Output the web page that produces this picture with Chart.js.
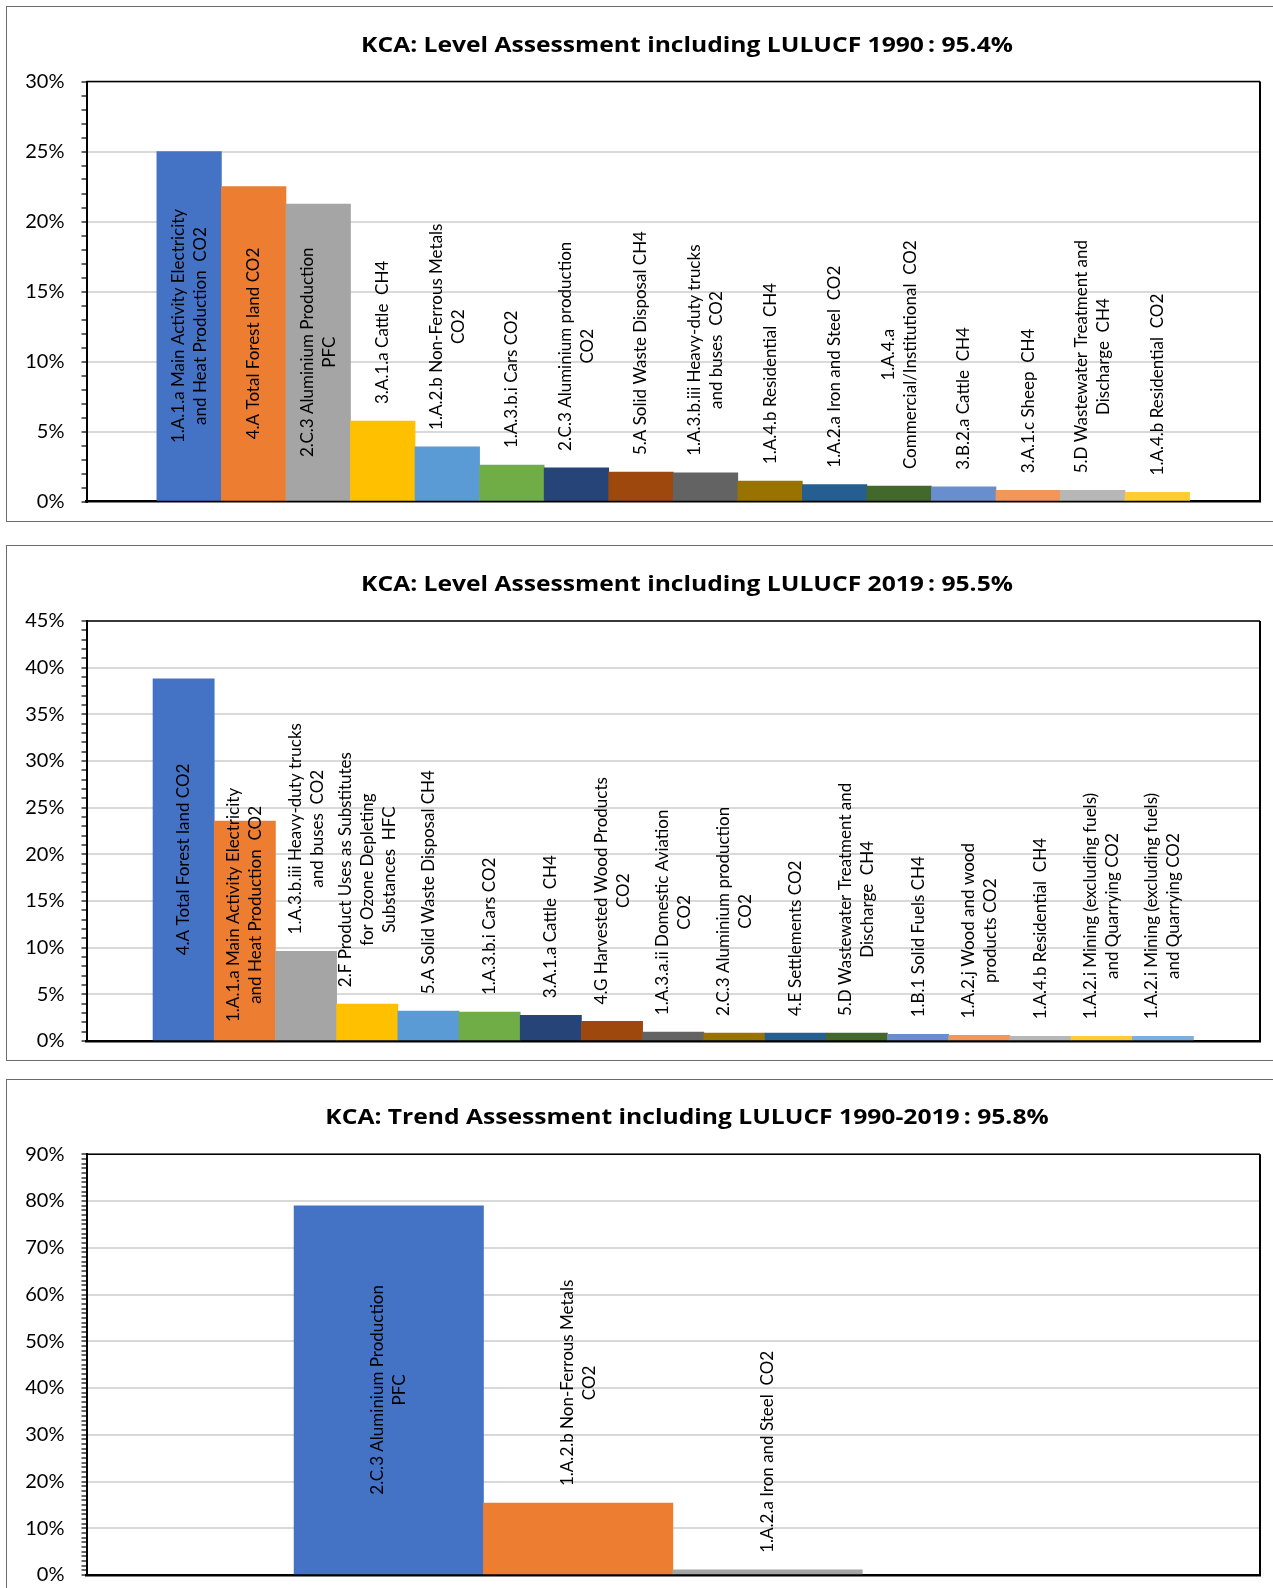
<!DOCTYPE html>
<html>
<head>
<meta charset="utf-8">
<script src="https://cdn.jsdelivr.net/npm/chart.js@4.4.1/dist/chart.umd.min.js"></script>
<style>
  html, body { margin: 0; padding: 0; background: #fff; overflow: hidden; }
  body { width: 1273px; height: 1588px; position: relative; }
  .frame { position: absolute; left: 6px; width: 1320px; border: 1.5px solid #6b6b6b; box-sizing: border-box; }
  .panel { position: absolute; left: 0; width: 1273px; height: 560px; }
</style>
</head>
<body>
<div class="frame" style="top:6px;height:516px"></div>
<div class="frame" style="top:545px;height:516px"></div>
<div class="frame" style="top:1079px;height:540px"></div>
<div class="panel" style="top:0"><canvas id="level1990"></canvas></div>
<div class="panel" style="top:535px"><canvas id="level2019"></canvas></div>
<div class="panel" style="top:1070px"><canvas id="trend"></canvas></div>
<script>
// ---- Level assessment 1990 (share of total, %) ----
const cats1990 = [
  ["1.A.1.a Main Activity Electricity", "and Heat Production  CO2"],
  ["4.A Total Forest land CO2"],
  ["2.C.3 Aluminium Production", "PFC"],
  ["3.A.1.a Cattle  CH4"],
  ["1.A.2.b Non-Ferrous Metals", "CO2"],
  ["1.A.3.b.i Cars CO2"],
  ["2.C.3 Aluminium production", "CO2"],
  ["5.A Solid Waste Disposal CH4"],
  ["1.A.3.b.iii Heavy-duty trucks", "and buses  CO2"],
  ["1.A.4.b Residential  CH4"],
  ["1.A.2.a Iron and Steel  CO2"],
  ["1.A.4.a", "Commercial/Institutional  CO2"],
  ["3.B.2.a Cattle  CH4"],
  ["3.A.1.c Sheep  CH4"],
  ["5.D Wastewater Treatment and", "Discharge  CH4"],
  ["1.A.4.b Residential  CO2"]
];
const share1990 = [25.0, 22.5, 21.25, 5.75, 3.9, 2.6, 2.4, 2.1, 2.05, 1.45, 1.2, 1.1, 1.05, 0.8, 0.8, 0.65];

// ---- Level assessment 2019 (share of total, %) ----
const cats2019 = [
  ["4.A Total Forest land CO2"],
  ["1.A.1.a Main Activity Electricity", "and Heat Production  CO2"],
  ["1.A.3.b.iii Heavy-duty trucks", "and buses  CO2"],
  ["2.F Product Uses as Substitutes", "for Ozone Depleting", "Substances  HFC"],
  ["5.A Solid Waste Disposal CH4"],
  ["1.A.3.b.i Cars CO2"],
  ["3.A.1.a Cattle  CH4"],
  ["4.G Harvested Wood Products", "CO2"],
  ["1.A.3.a.ii Domestic Aviation", "CO2"],
  ["2.C.3 Aluminium production", "CO2"],
  ["4.E Settlements CO2"],
  ["5.D Wastewater Treatment and", "Discharge  CH4"],
  ["1.B.1 Solid Fuels CH4"],
  ["1.A.2.j Wood and wood", "products CO2"],
  ["1.A.4.b Residential  CH4"],
  ["1.A.2.i Mining (excluding fuels)", "and Quarrying CO2"],
  ["1.A.2.i Mining (excluding fuels)", "and Quarrying CO2"]
];
const share2019 = [38.8, 23.55, 9.6, 3.95, 3.2, 3.1, 2.75, 2.1, 0.95, 0.85, 0.85, 0.85, 0.72, 0.6, 0.5, 0.5, 0.5];

// ---- Trend assessment 1990-2019 (contribution to trend, %) ----
const catsTrend = [
  ["2.C.3 Aluminium Production", "PFC"],
  ["1.A.2.b Non-Ferrous Metals", "CO2"],
  ["1.A.2.a Iron and Steel  CO2"]
];
const shareTrend = [79.0, 15.4, 1.1];

// y-axis tick labels
const ticks1990 = [0, 5, 10, 15, 20, 25, 30];
const ticks2019 = [0, 5, 10, 15, 20, 25, 30, 35, 40, 45];
const ticksTrend = [0, 10, 20, 30, 40, 50, 60, 70, 80, 90];

// Office colour sequence used for the bars
const palette = ['#4472C4', '#ED7D31', '#A5A5A5', '#FFC000', '#5B9BD5', '#70AD47', '#264478', '#9E480E',
  '#636363', '#997300', '#255E91', '#43682B', '#698ED0', '#F1975A', '#B7B7B7', '#FFCD33', '#7CAFDD'];

// Category names printed vertically on or above each bar
const barNames = {
  id: 'barNames',
  afterDatasetsDraw(chart, args, opts) {
    const ctx = chart.ctx;
    const meta = chart.getDatasetMeta(0);
    ctx.save();
    ctx.font = opts.font;
    ctx.fillStyle = '#000';
    ctx.textAlign = 'center';
    ctx.textBaseline = 'middle';
    meta.data.forEach((bar, i) => {
      const lines = opts.lines[i];
      if (!lines || !lines.length) return;
      const p = bar.getProps(['x', 'y', 'base'], true);
      const h = p.base - p.y;
      const len = Math.max(...lines.map(t => ctx.measureText(t).width));
      let cy;
      if (len + 24 <= h) cy = (p.y + p.base) / 2;            // fits: centred in the bar
      else if (h > 0.75 * len) cy = p.base - 18 - len / 2;   // starts near the base
      else cy = p.y - 17 - len / 2;                           // above the bar
      ctx.save();
      ctx.translate(p.x, cy);
      ctx.rotate(-Math.PI / 2);
      lines.forEach((t, k) => ctx.fillText(t, 0, (k - (lines.length - 1) / 2) * opts.lineHeight));
      ctx.restore();
    });
    ctx.restore();
  }
};

// Heading and plot-area outline
const panelDecor = {
  id: 'panelDecor',
  afterDraw(chart, args, opts) {
    const {ctx, chartArea: a} = chart;
    ctx.save();
    ctx.strokeStyle = '#000';
    ctx.lineWidth = 1.5;
    ctx.beginPath();
    ctx.moveTo(a.left, a.top);
    ctx.lineTo(a.right, a.top);
    ctx.stroke();
    ctx.lineWidth = 2;
    ctx.beginPath();
    ctx.moveTo(a.right, a.top);
    ctx.lineTo(a.right, a.bottom);
    ctx.stroke();
    ctx.font = opts.font;
    ctx.fillStyle = '#000';
    ctx.textAlign = 'center';
    ctx.textBaseline = 'middle';
    ctx.translate(opts.x, opts.y);
    ctx.scale(opts.stretch, 1);
    ctx.fillText(opts.text, 0, 0);
    ctx.restore();
  }
};

function buildChart(id, cfg) {
  const n = cfg.values.length;
  const points = cfg.values.map((v, i) => ({x: i, y: v}));
  const tickSet = new Set(cfg.ticks);
  return new Chart(document.getElementById(id), {
    type: 'bar',
    data: {
      datasets: [{
        data: points,
        backgroundColor: palette.slice(0, n),
        borderWidth: 0,
        barPercentage: 1,
        categoryPercentage: 1
      }]
    },
    options: {
      responsive: true,
      maintainAspectRatio: false,
      animation: false,
      events: [],
      layout: { padding: { top: cfg.top, right: 13, bottom: cfg.bottom, left: 0 } },
      plugins: {
        legend: { display: false },
        tooltip: { enabled: false },
        barNames: { lines: cfg.cats, font: '17px Lato', lineHeight: 22 },
        panelDecor: { text: cfg.title, x: 687, y: cfg.titleY, font: 'bold 22px "Open Sans"', stretch: 1.12 }
      },
      scales: {
        x: {
          type: 'linear',
          offset: false,
          min: -0.5 - cfg.lead,
          max: n - 0.5 + cfg.trail,
          ticks: { display: false },
          grid: { display: false, offset: false },
          border: { display: true, color: '#000', width: 2.5 },
          afterBuildTicks(scale) { scale.ticks = [{value: scale.min}, {value: scale.max}]; },
          afterFit(scale) { scale.height = 0; }
        },
        y: {
          min: 0,
          max: cfg.ticks[cfg.ticks.length - 1],
          ticks: {
            stepSize: cfg.minor,
            autoSkip: false,
            maxTicksLimit: 200,
            padding: 17,
            color: '#000',
            font: { family: 'Lato', size: 20 },
            callback: v => tickSet.has(v) ? v + '%' : ''
          },
          grid: {
            drawTicks: true,
            tickLength: 5,
            tickColor: '#000',
            tickWidth: 1.2,
            lineWidth: 2,
            color: c => (c.tick && tickSet.has(c.tick.value) && c.tick.value !== 0) ? '#d9d9d9' : 'rgba(0,0,0,0)'
          },
          border: { display: true, color: '#000', width: 2 },
          afterFit(scale) { scale.width = 86.5; }
        }
      }
    },
    plugins: [barNames, panelDecor]
  });
}

buildChart('level1990', {
  title: 'KCA: Level Assessment including LULUCF 1990\u2009: 95.4%',
  titleY: 46, top: 81.5, bottom: 58.5,
  cats: cats1990, values: share1990, lead: 1.09, trail: 1.09,
  ticks: ticks1990, minor: 1
});
buildChart('level2019', {
  title: 'KCA: Level Assessment including LULUCF 2019\u2009: 95.5%',
  titleY: 50, top: 86, bottom: 54,
  cats: cats2019, values: share2019, lead: 1.087, trail: 1.087,
  ticks: ticks2019, minor: 1
});
buildChart('trend', {
  title: 'KCA: Trend Assessment including LULUCF 1990-2019\u2009: 95.8%',
  titleY: 48, top: 84.3, bottom: 55,
  cats: catsTrend, values: shareTrend, lead: 1.096, trail: 2.1,
  ticks: ticksTrend, minor: 1
});
</script>
</body>
</html>
